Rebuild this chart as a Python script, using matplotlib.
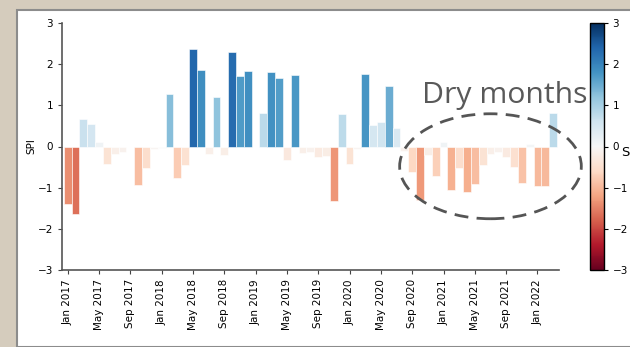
import numpy as np
import pandas as pd
import matplotlib
matplotlib.use("Agg")
import matplotlib.pyplot as plt
from matplotlib.patches import Ellipse, Rectangle
from matplotlib.colors import Normalize

# monthly SPI, Jan 2017 - Mar 2022
months = pd.date_range("2017-01-01", periods=63, freq="MS")
spi = [
    -1.39, -1.65, 0.67, 0.55, 0.12, -0.43, -0.18, -0.14, -0.01, -0.93, -0.52, -0.06,
    -0.04, 1.28, -0.77, -0.45, 2.37, 1.87, -0.18, 1.20, -0.20, 2.30, 1.71, 1.83,
    -0.01, 0.81, 1.82, 1.67, -0.32, 1.74, -0.17, -0.13, -0.26, -0.22, -1.32, 0.79,
    -0.43, -0.05, 1.77, 0.53, 0.59, 1.48, 0.45, -0.12, -0.61, -1.30, -0.20, -0.72,
    0.12, -1.06, -0.52, -1.10, -0.92, -0.44, -0.18, -0.14, -0.26, -0.49, -0.88, 0.05,
    -0.97, -0.97, 0.82,
]
tick_step = 4

cmap = plt.get_cmap("RdBu")
norm = Normalize(vmin=-3, vmax=3)

fig = plt.figure(figsize=(6.3, 3.47), dpi=100, facecolor="#d5ccbd")
# white page behind the plot
fig.patches.append(Rectangle((17 / 630, 0), 1, 1 - 10 / 347, transform=fig.transFigure,
                             facecolor="white", edgecolor="#8c8c8c", lw=1.5, zorder=-1))

ax = fig.add_axes([62 / 630, 77 / 347, 497 / 630, 247 / 347])
ax.set_facecolor("none")
x = np.arange(len(spi))
ax.bar(x, spi, width=1.0, color=cmap(norm(np.array(spi))), edgecolor="white", linewidth=0.4)

ax.set_xlim(-0.72, 62.75)
ax.set_ylim(-3, 3)
ax.set_yticks(range(-3, 4))
ticks = x[::tick_step]
ax.set_xticks(ticks)
ax.set_xticklabels([months[i].strftime("%b %Y") for i in ticks], rotation=90)
ax.tick_params(labelsize=7.5, length=3, color="#444444")
for s in ["top", "right"]:
    ax.spines[s].set_visible(False)
for s in ["left", "bottom"]:
    ax.spines[s].set_color("#555555")
    ax.spines[s].set_linewidth(1.2)
ax.set_ylabel("SPI", fontsize=7.5, labelpad=1)

# dashed ring around the dry spell
ring = Ellipse((54.0, -0.48), 23.2, 2.55, fill=False, edgecolor="#555555",
               lw=2.0, ls=(0, (5, 3)), clip_on=False)
ax.add_patch(ring)
fig.text(422 / 630, 1 - 103 / 347, "Dry months", fontsize=21.7, color="#595959",
         family="Open Sans", va="baseline")

# colour bar
cax = fig.add_axes([589.5 / 630, 77 / 347, 14 / 630, 247 / 347])
sm = plt.cm.ScalarMappable(norm=norm, cmap=cmap)
cb = fig.colorbar(sm, cax=cax, ticks=range(-3, 4))
cb.ax.tick_params(labelsize=7.5, length=3)
cb.outline.set_linewidth(1.0)
# colour bar title, runs off the right edge
fig.text(621 / 630, 1 - 152 / 347, "SPI", fontsize=9.5, va="center", ha="left")

fig.savefig("out.png", dpi=100)
